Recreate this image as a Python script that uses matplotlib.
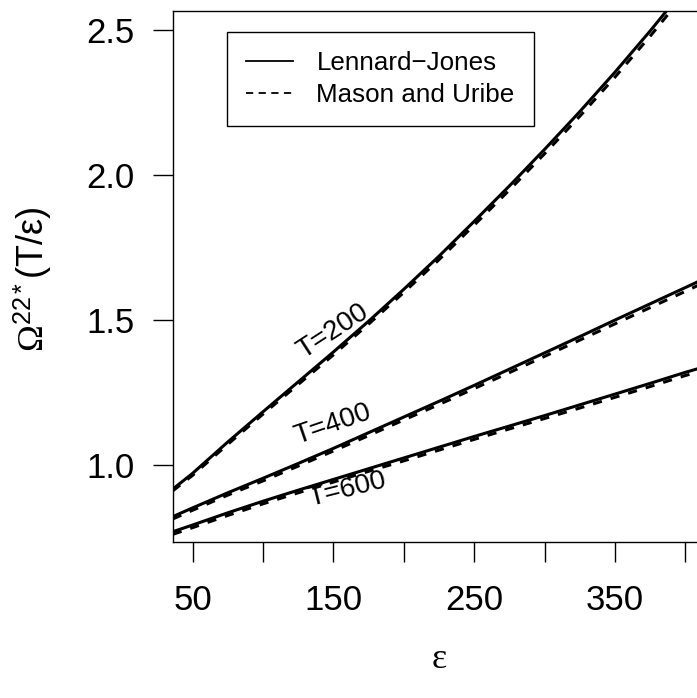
import matplotlib
matplotlib.use("Agg")
import matplotlib.pyplot as plt
from matplotlib.lines import Line2D

plt.rcParams['font.family'] = ['Liberation Sans', 'DejaVu Sans']
plt.rcParams['mathtext.fontset'] = 'custom'
plt.rcParams['mathtext.rm'] = 'Liberation Serif'
plt.rcParams['mathtext.it'] = 'Liberation Serif:italic'
plt.rcParams['mathtext.bf'] = 'Liberation Serif:bold'
plt.rcParams['mathtext.sf'] = 'Liberation Sans'

# ---- data ----
eps = [36, 50, 75, 100, 125, 150, 175, 200, 225, 250, 275, 300, 325, 350, 375, 400, 415]

lj_T200 = [0.918, 0.972, 1.080, 1.184, 1.287, 1.390, 1.496, 1.606, 1.720, 1.840,
           1.962, 2.088, 2.218, 2.354, 2.496, 2.645, 2.740]
mu_T200 = [0.912, 0.965, 1.072, 1.176, 1.278, 1.380, 1.486, 1.595, 1.708, 1.827,
           1.948, 2.073, 2.202, 2.337, 2.478, 2.626, 2.720]

lj_T400 = [0.823, 0.853, 0.905, 0.955, 1.006, 1.058, 1.112, 1.166, 1.220, 1.275,
           1.331, 1.387, 1.443, 1.500, 1.556, 1.612, 1.646]
mu_T400 = [0.815, 0.845, 0.897, 0.946, 0.997, 1.049, 1.102, 1.156, 1.209, 1.264,
           1.319, 1.375, 1.431, 1.487, 1.543, 1.599, 1.633]

lj_T600 = [0.771, 0.794, 0.836, 0.876, 0.914, 0.951, 0.988, 1.025, 1.062, 1.099,
           1.135, 1.171, 1.208, 1.245, 1.282, 1.320, 1.341]
mu_T600 = [0.762, 0.785, 0.827, 0.867, 0.905, 0.942, 0.979, 1.015, 1.052, 1.089,
           1.125, 1.161, 1.197, 1.234, 1.271, 1.309, 1.330]

curve_labels = ["T=200", "T=400", "T=600"]
label_pos_eps = [149.4, 149.4, 160.0]
label_pos_val = [1.462, 1.141, 0.915]
label_rot = [33, 19, 14]

x_ticks = [50, 100, 150, 200, 250, 300, 350, 400]
x_ticklabels = ["50", "", "150", "", "250", "", "350", ""]
y_ticks = [1.0, 1.5, 2.0, 2.5]
y_ticklabels = ["1.0", "1.5", "2.0", "2.5"]
legend_labels = ["Lennard\u2212Jones", "Mason and Uribe"]

# ---- figure ----
W, H = 697, 698
fig = plt.figure(figsize=(W / 100, H / 100), dpi=100)
left, right, bottom, top = 173, 705, 542, 11
ax = fig.add_axes([left / W, (H - bottom) / H, (right - left) / W, (bottom - top) / H])

lw = 2.2
dash = (0, (3, 3))
ax.plot(eps, lj_T200, color='black', lw=lw)
ax.plot(eps, mu_T200, color='black', lw=lw, ls=dash)
ax.plot(eps, lj_T400, color='black', lw=lw)
ax.plot(eps, mu_T400, color='black', lw=lw, ls=dash)
ax.plot(eps, lj_T600, color='black', lw=lw)
ax.plot(eps, mu_T600, color='black', lw=lw, ls=dash)

for lab, xe, yv, r in zip(curve_labels, label_pos_eps, label_pos_val, label_rot):
    ax.text(xe, yv, lab, rotation=r, ha='center', va='center', fontsize=20,
            rotation_mode='anchor')

ax.set_xlim(36.1, 413.9)
ax.set_ylim(0.7355, 2.5645)

ax.set_xticks(x_ticks)
ax.set_xticklabels(x_ticklabels)
ax.set_yticks(y_ticks)
ax.set_yticklabels(y_ticklabels)
ax.tick_params(axis='both', direction='out', length=14.5, width=1.0, labelsize=25,
               color='black')
ax.tick_params(axis='x', pad=16)
ax.tick_params(axis='y', pad=13)

for s in ['left', 'top', 'bottom', 'right']:
    ax.spines[s].set_linewidth(1.0)

handles = [Line2D([], [], color='black', lw=1.3),
           Line2D([], [], color='black', lw=1.3, ls=(0, (4, 3)))]
leg = ax.legend(handles, legend_labels, loc='upper left',
                bbox_to_anchor=((227.4 - left) / (right - left), 1 - (32 - top) / (bottom - top)),
                fontsize=18.7, frameon=True, fancybox=False, framealpha=1,
                edgecolor='black', handlelength=1.8, handletextpad=0.9,
                borderpad=0.73, labelspacing=0.3, borderaxespad=0)
leg.get_frame().set_linewidth(1.0)

fig.text(439 / W, 1 - 660 / H, "\u03b5", ha='center', va='center', fontsize=26,
         family='Liberation Serif')
fig.text(33 / W, 1 - 279 / H,
         r"$\Omega^{\mathsf{22*}}$(T/\u03b5)".replace("\\u03b5", "\u03b5"),
         rotation=90, ha='center', va='center', fontsize=26)

fig.savefig("out.png", dpi=100)
